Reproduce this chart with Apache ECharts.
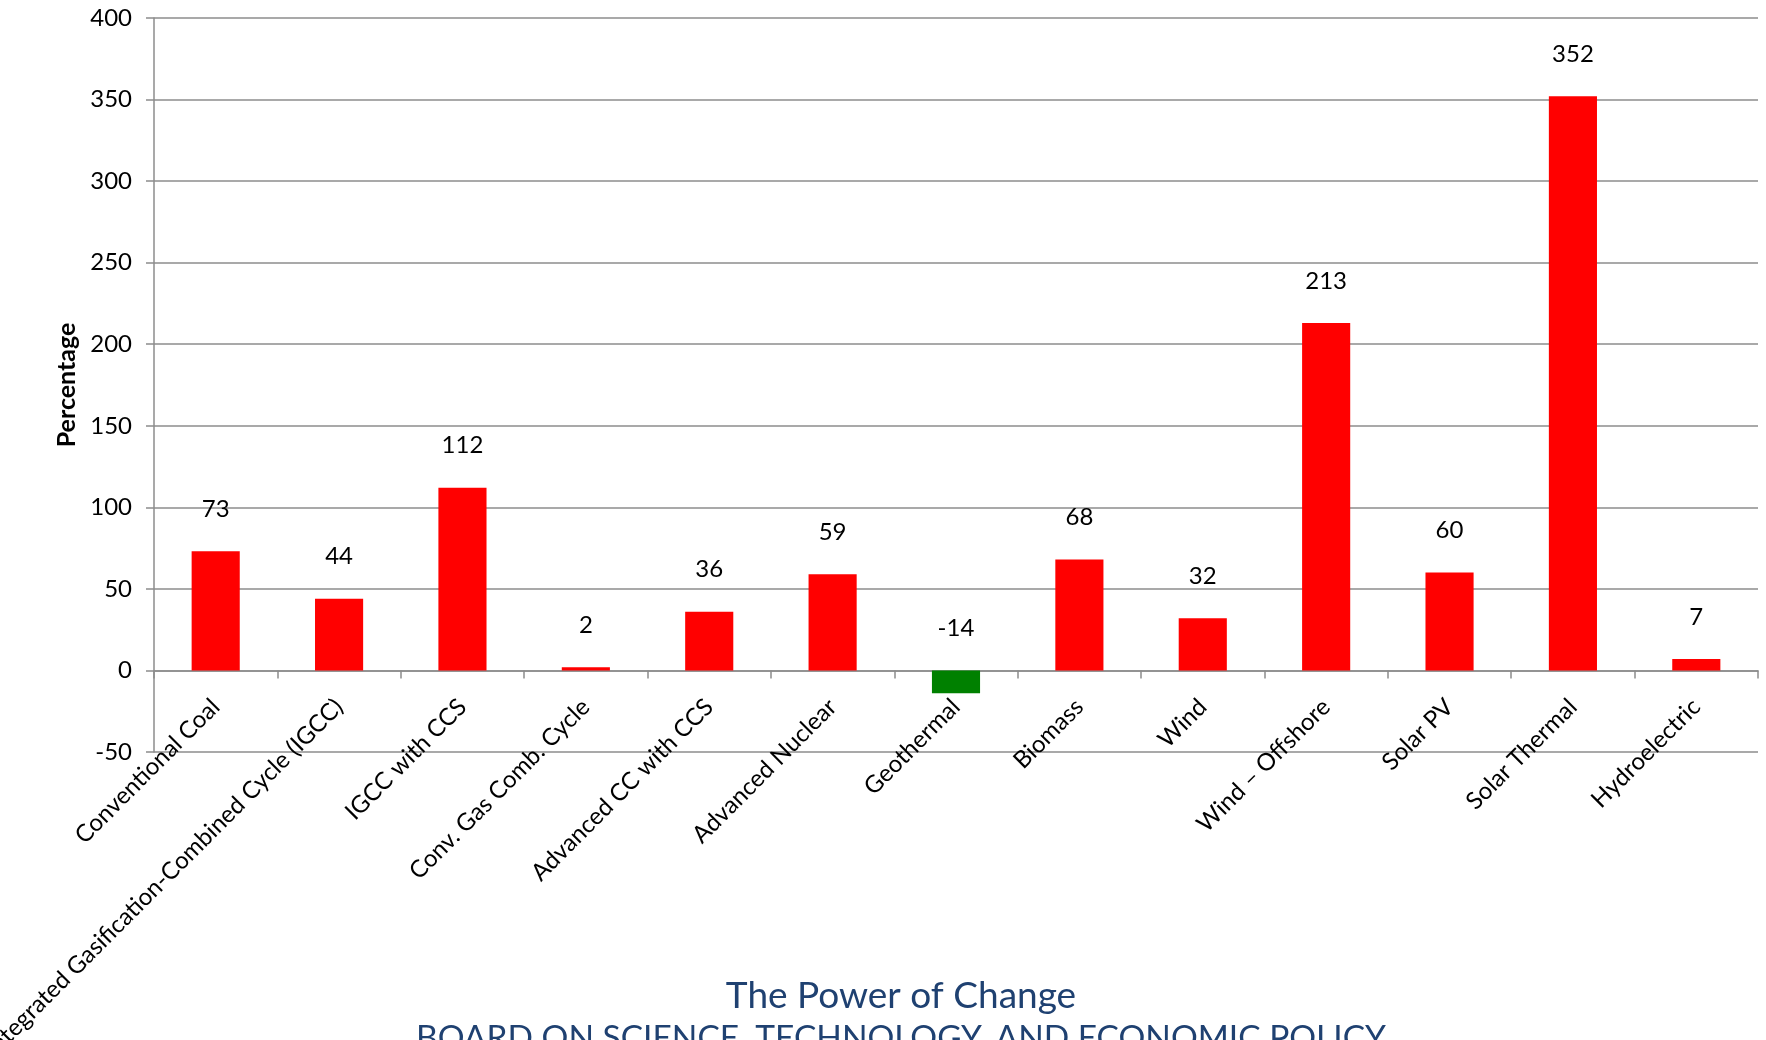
<!DOCTYPE html>
<html>
<head>
<meta charset="utf-8">
<script src="https://cdn.jsdelivr.net/npm/echarts@6/dist/echarts.min.js"></script>
<style>
  html, body { margin: 0; padding: 0; background: #fff; }
  #chart { width: 1766px; height: 1040px; }
</style>
</head>
<body>
<div id="chart"></div>
<script>
// categories and values
const categories = [
  'Conventional Coal',
  'Integrated Gasification-Combined Cycle (IGCC)',
  'IGCC with CCS',
  'Conv. Gas Comb. Cycle',
  'Advanced CC with CCS',
  'Advanced Nuclear',
  'Geothermal',
  'Biomass',
  'Wind',
  'Wind \u2013 Offshore',
  'Solar PV',
  'Solar Thermal',
  'Hydroelectric'
];
const percentChange = [73, 44, 112, 2, 36, 59, -14, 68, 32, 213, 60, 352, 7];

const titleLine = 'The Power of Change';
const subLine = 'BOARD ON SCIENCE, TECHNOLOGY, AND ECONOMIC POLICY';

const FONT = 'Lato';
const axisGrey = '#8c8c8c';

const chart = echarts.init(document.getElementById('chart'));

const option = {
  animation: false,
  textStyle: { fontFamily: FONT },
  grid: {
    left: 154, right: 8, top: 18, bottom: 288,
    containLabel: false,
    outerBoundsMode: 'none'
  },
  graphic: [
    {
      type: 'text',
      x: 901,
      y: 978,
      style: { text: titleLine, fill: '#1f4171', font: '37px ' + FONT, textAlign: 'center' }
    },
    {
      type: 'text',
      x: 901,
      y: 1021,
      style: { text: subLine, fill: '#1f4171', font: '33.5px ' + FONT, textAlign: 'center' }
    }
  ],
  xAxis: {
    type: 'category',
    data: categories,
    axisLine: { onZero: true, lineStyle: { color: axisGrey, width: 1.5 } },
    axisTick: { show: true, length: 8, lineStyle: { color: axisGrey, width: 1.5 } },
    axisLabel: {
      interval: 0,
      rotate: 45,
      margin: -49,
      color: '#000',
      fontSize: 24,
      fontFamily: FONT
    },
    splitLine: { show: false }
  },
  yAxis: {
    type: 'value',
    min: -50,
    max: 400,
    interval: 50,
    name: 'Percentage',
    nameLocation: 'middle',
    nameGap: 73,
    nameRotate: 90,
    nameTextStyle: { color: '#000', fontSize: 25, fontWeight: 'bold', fontFamily: FONT },
    axisLine: { show: true, lineStyle: { color: axisGrey, width: 1.5 } },
    axisTick: { show: true, length: 8, lineStyle: { color: axisGrey, width: 1.5 } },
    axisLabel: { color: '#000', fontSize: 24, margin: 22, fontFamily: FONT },
    splitLine: { show: true, lineStyle: { color: axisGrey, width: 1.5 } }
  },
  series: [
    {
      type: 'bar',
      data: percentChange.map(v => ({
        value: v,
        itemStyle: { color: v < 0 ? '#008000' : '#ff0000' }
      })),
      barWidth: '39%',
      label: {
        show: true,
        position: 'top',
        distance: 30,
        color: '#000',
        fontSize: 24,
        fontFamily: FONT
      }
    }
  ]
};

chart.setOption(option);
</script>
</body>
</html>
